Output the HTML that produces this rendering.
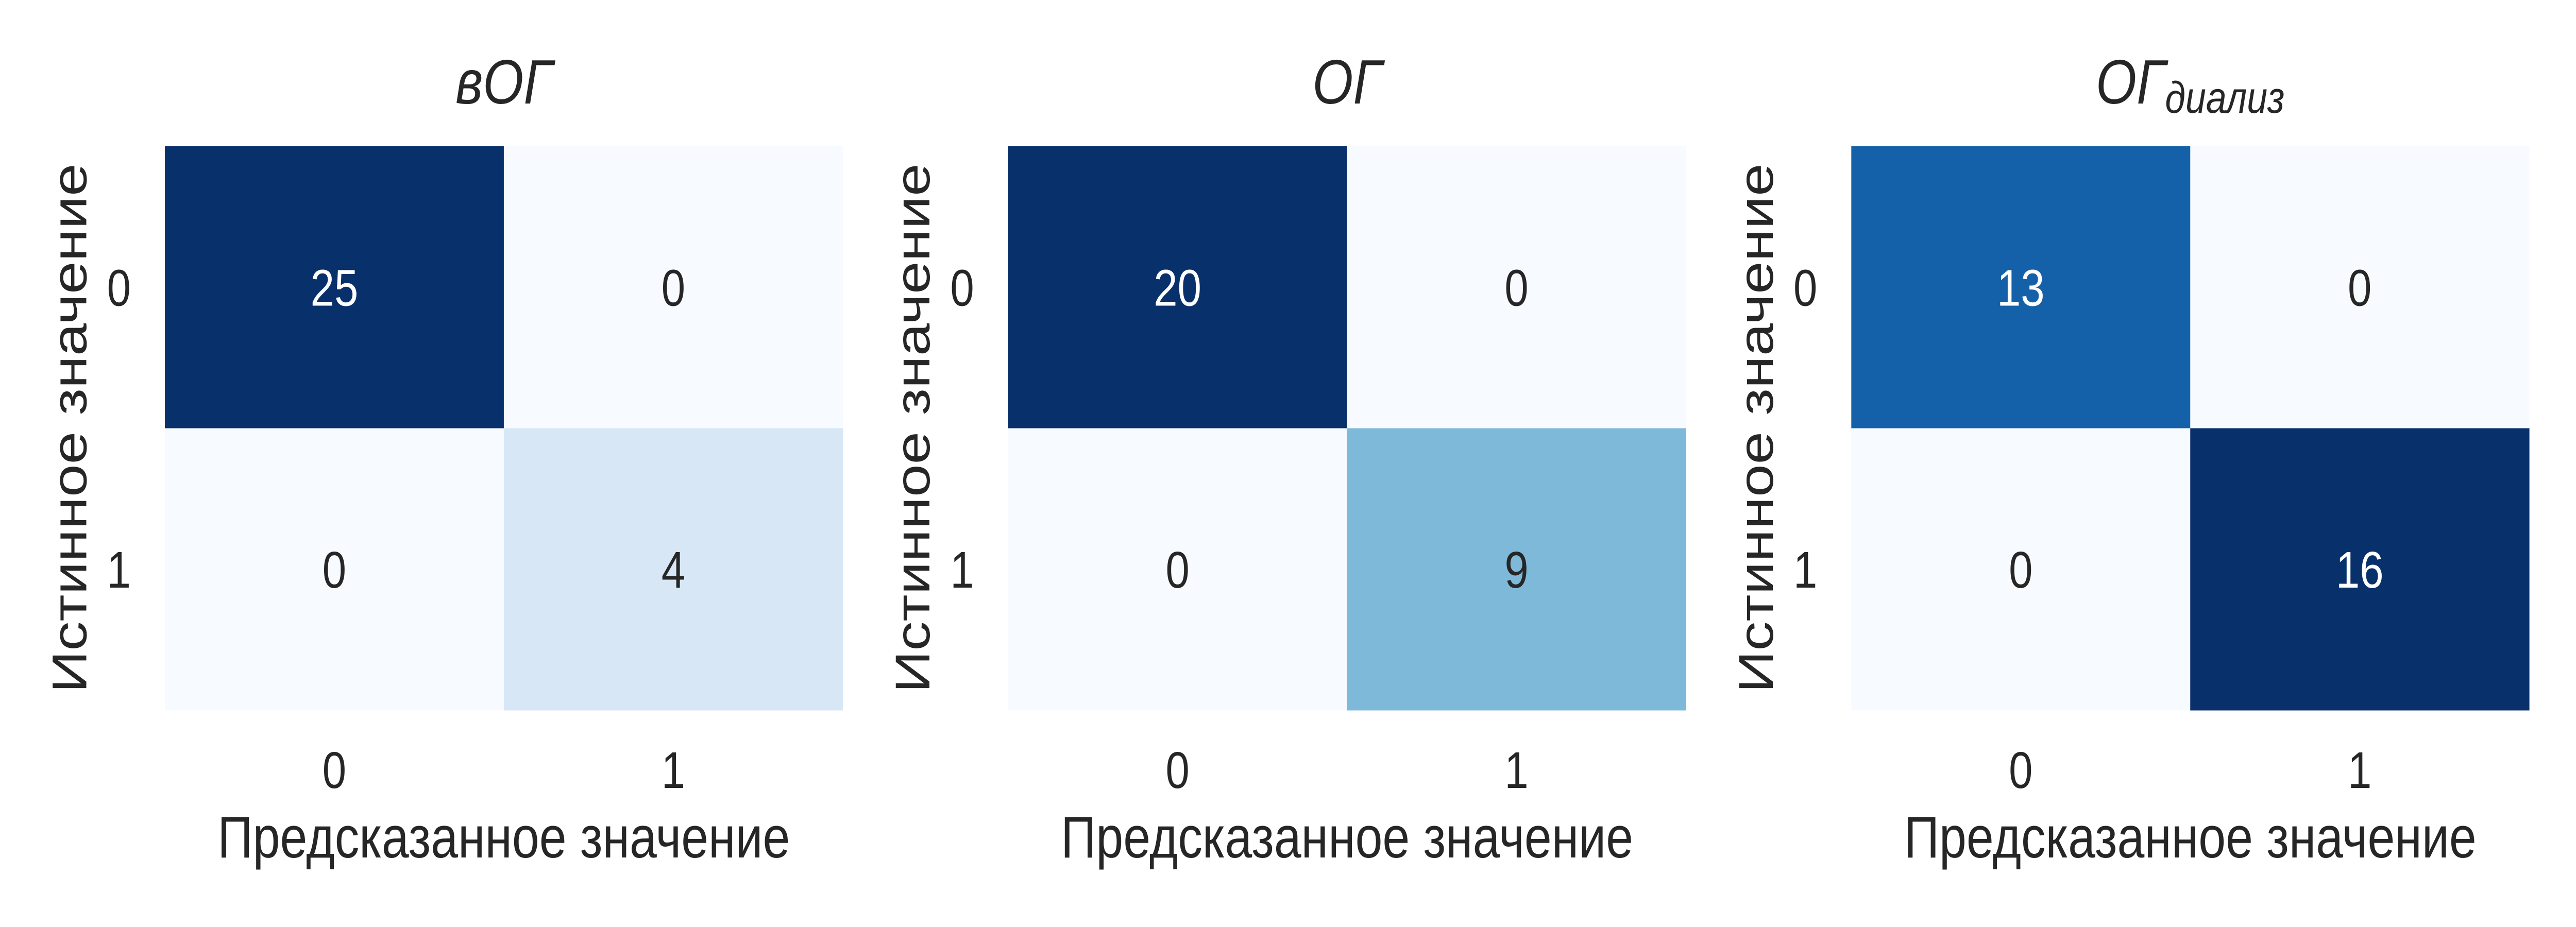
<!DOCTYPE html>
<html><head><meta charset="utf-8">
<style>
html,body{margin:0;padding:0;background:#fff;width:100%;height:100%;overflow:hidden;}
svg{display:block;width:100vw;height:100vh;font-family:"Liberation Sans",Arial,sans-serif;}
</style></head>
<body>
<svg id="chart" viewBox="0 0 6000 1800" preserveAspectRatio="none" xmlns="http://www.w3.org/2000/svg"></svg>
<script>
// Data
const panelTitles = ["вОГ", "ОГ", "ОГ"];
const panelSubtitles = ["", "", "диализ"];
const matrixVOG = [[25, 0], [0, 4]];
const matrixOG = [[20, 0], [0, 9]];
const matrixOGDialysis = [[13, 0], [0, 16]];
const tickLabels = ["0", "1"];
const xAxisLabel = "Предсказанное значение";
const yAxisLabel = "Истинное значение";

const matrices = [matrixVOG, matrixOG, matrixOGDialysis];
const NS = "http://www.w3.org/2000/svg";
const svg = document.getElementById("chart");
const blues = ["#f7fbff","#deebf7","#c6dbef","#9ecae1","#6baed6","#4292c6","#2171b5","#08519c","#08306b"];
function hex(c){return [parseInt(c.slice(1,3),16),parseInt(c.slice(3,5),16),parseInt(c.slice(5,7),16)];}
function bluesColor(t){
  t=Math.max(0,Math.min(1,t));
  const p=t*(blues.length-1); const i=Math.min(Math.floor(p),blues.length-2); const f=p-i;
  const a=hex(blues[i]), b=hex(blues[i+1]);
  return "rgb("+a.map((v,k)=>Math.round(v+(b[k]-v)*f)).join(",")+")";
}
function mk(tag, attrs, parent){
  const e=document.createElementNS(NS,tag);
  for(const k in attrs) e.setAttribute(k,attrs[k]);
  (parent||svg).appendChild(e); return e;
}
const panelLeft0 = 384, panelStep = 1964, panelW = 1579, panelTop = 284, panelH = 1095;
const textDark = "#262626";

matrices.forEach((m, p) => {
  const g = mk("g", {});
  
  
  const x0 = panelLeft0 + p*panelStep;
  const n = m.length;
  const cw = panelW/n, ch = panelH/n;
  const vmax = Math.max(...m.flat()), vmin = Math.min(...m.flat());
  const xScale = j => x0 + j*cw;
  const yScale = i => panelTop + i*ch;
  for (let i=0;i<n;i++) for (let j=0;j<n;j++){
    const v = m[i][j];
    const t = (v - vmin)/((vmax - vmin)||1);
    const r = mk("rect",{x:xScale(j),y:yScale(i),width:cw+0.5,height:ch+0.5,fill:bluesColor(t)},g);
    
    
    const tx = mk("text",{x:xScale(j)+cw/2,y:yScale(i)+ch/2+36,"text-anchor":"middle","font-size":100,fill:t>0.5?"#ffffff":textDark},g);
    tx.textContent = v;
    
    
  }
  tickLabels.forEach((lab, k) => {
    const xt = mk("text",{x:xScale(k)+cw/2,y:1530,"text-anchor":"middle","font-size":100,fill:textDark},g);
    xt.textContent = lab;
    
    
    const yt = mk("text",{x:x0-107,y:yScale(k)+ch/2+36,"text-anchor":"middle","font-size":100,fill:textDark},g);
    yt.textContent = lab;
    
    
  });
  const xl = mk("text",{x:x0+panelW/2,y:1665,"text-anchor":"middle","font-size":114,fill:textDark},g);
  xl.textContent = xAxisLabel;
  
  
  const cy = panelTop + panelH/2;
  const yl = mk("text",{x:x0-183,y:cy,"text-anchor":"middle","font-size":114,fill:textDark,transform:"rotate(-90 "+(x0-183)+" "+cy+")"},g);
  yl.textContent = yAxisLabel;
  
  
  const ti = mk("text",{x:x0+panelW/2,y:201,"text-anchor":"middle","font-size":122,"font-style":"italic",fill:textDark},g);
  ti.textContent = panelTitles[p];
  if (panelSubtitles[p]) {
    const ts = mk("tspan",{"font-size":86,dy:18},ti);
    ts.textContent = panelSubtitles[p];
  }
  
  
});
</script>
</body></html>
